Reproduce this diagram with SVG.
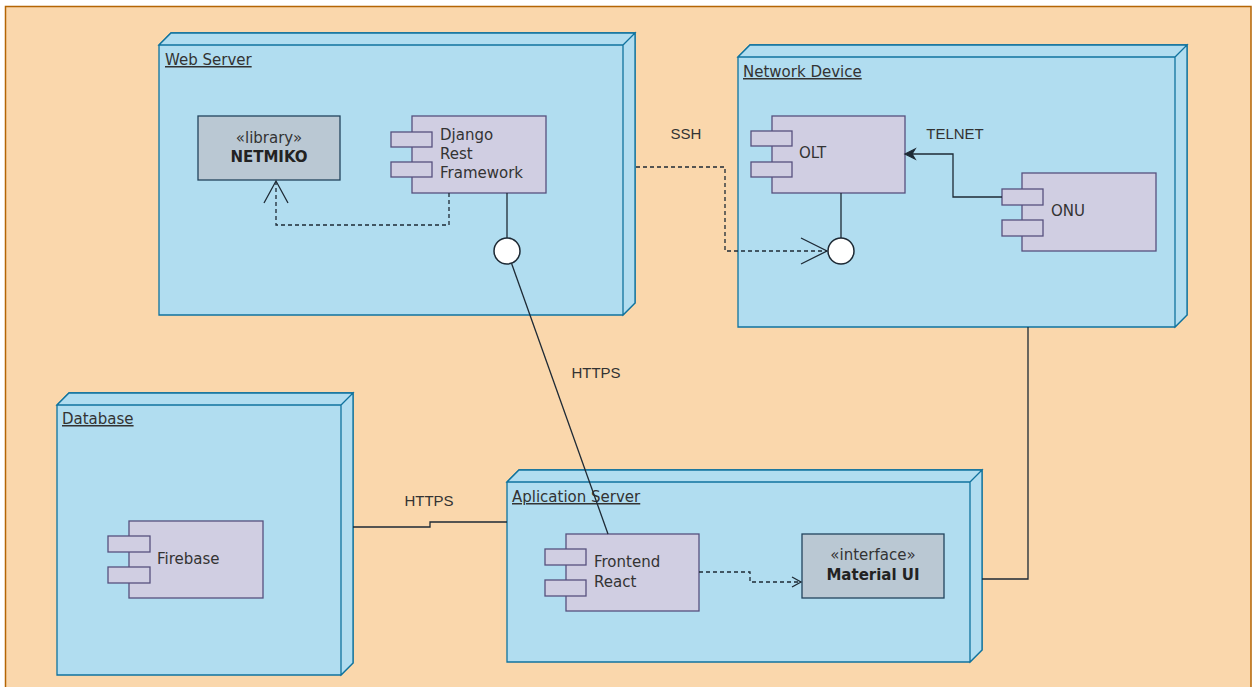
<svg xmlns="http://www.w3.org/2000/svg" width="1253" height="687" viewBox="0 0 1253 687">
<style>
.node{fill:#b1ddf0;stroke:#10739e;stroke-width:1.3}
.comp{fill:#d0cee2;stroke:#56517e;stroke-width:1.3}
.lib{fill:#bac8d3;stroke:#23445d;stroke-width:1.3}
.title{font-family:"DejaVu Sans",sans-serif;font-size:15px;fill:#333;text-decoration:underline}
.t{font-family:"DejaVu Sans",sans-serif;font-size:15px;fill:#333}
.tb{font-family:"DejaVu Sans",sans-serif;font-size:15px;fill:#222;font-weight:bold}
.lbl{font-family:"Liberation Sans",Arial,sans-serif;font-size:15px;fill:#333;text-anchor:middle}
.c{fill:none;stroke:#1e2a35;stroke-width:1.3}
.d{fill:none;stroke:#1e2a35;stroke-width:1.3;stroke-dasharray:4 3}
.lol{fill:#fff;stroke:#1e2a35;stroke-width:1.5}
</style>
<rect x="0" y="0" width="1253" height="687" fill="#ffffff"/>
<rect x="5.5" y="6.5" width="1245.5" height="690" fill="#fad7ac" stroke="#b46504" stroke-width="1.5"/>

<g id="web-server">
<path class="node" d="M159,45 L171,33 L635,33 L635,303 L623,315 L159,315 Z"/>
<path class="node" d="M159,45 L171,33 L635,33 L623,45 Z M623,45 L635,33 L635,303 L623,315 Z"/>
<text class="title" x="165" y="65">Web Server</text>
</g>
<g id="netmiko">
<rect class="lib" x="198" y="116" width="142" height="64"/>
<text class="t" x="269" y="143" text-anchor="middle">«library»</text>
<text class="tb" x="269" y="162" text-anchor="middle">NETMIKO</text>
</g>
<g id="django">
<rect class="comp" x="412" y="116" width="134" height="77"/>
<rect class="comp" x="391" y="132" width="41" height="15"/>
<rect class="comp" x="391" y="162" width="41" height="15"/>
<text class="t" x="440" y="140">Django</text>
<text class="t" x="440" y="159">Rest</text>
<text class="t" x="440" y="178">Framework</text>
</g>

<g id="network-device">
<path class="node" d="M738,57 L750,45 L1187,45 L1187,315 L1175,327 L738,327 Z"/>
<path class="node" d="M738,57 L750,45 L1187,45 L1175,57 Z M1175,57 L1187,45 L1187,315 L1175,327 Z"/>
<text class="title" x="743" y="77">Network Device</text>
</g>
<g id="olt">
<rect class="comp" x="772" y="116" width="133" height="77"/>
<rect class="comp" x="751" y="131" width="41" height="15"/>
<rect class="comp" x="751" y="162" width="41" height="15"/>
<text class="t" x="799" y="158">OLT</text>
</g>
<g id="onu">
<rect class="comp" x="1022" y="173" width="134" height="78"/>
<rect class="comp" x="1002" y="189" width="41" height="16"/>
<rect class="comp" x="1002" y="220" width="41" height="16"/>
<text class="t" x="1051" y="216">ONU</text>
</g>

<g id="database">
<path class="node" d="M57,405 L69,393 L353,393 L353,663 L341,675 L57,675 Z"/>
<path class="node" d="M57,405 L69,393 L353,393 L341,405 Z M341,405 L353,393 L353,663 L341,675 Z"/>
<text class="title" x="62" y="424">Database</text>
</g>
<g id="firebase">
<rect class="comp" x="129" y="521" width="134" height="77"/>
<rect class="comp" x="108" y="536" width="42" height="16"/>
<rect class="comp" x="108" y="567" width="42" height="16"/>
<text class="t" x="157" y="564">Firebase</text>
</g>

<g id="application-server">
<path class="node" d="M507,482 L519,470 L982,470 L982,650 L970,662 L507,662 Z"/>
<path class="node" d="M507,482 L519,470 L982,470 L970,482 Z M970,482 L982,470 L982,650 L970,662 Z"/>
<text class="title" x="512" y="502">Aplication Server</text>
</g>
<g id="frontend">
<rect class="comp" x="566" y="534" width="133" height="77"/>
<rect class="comp" x="545" y="549" width="41" height="16"/>
<rect class="comp" x="545" y="580" width="41" height="16"/>
<text class="t" x="594" y="567">Frontend</text>
<text class="t" x="594" y="587">React</text>
</g>
<g id="material-ui">
<rect class="lib" x="802" y="534" width="142" height="64"/>
<text class="t" x="873" y="560" text-anchor="middle">«interface»</text>
<text class="tb" x="873" y="580" text-anchor="middle">Material UI</text>
</g>

<g id="connectors">
<path class="d" d="M449,193 V225 H276 V182"/>
<path class="c" d="M264,203 L276,181 L288,203"/>
<path class="c" d="M507,193 V238"/>
<circle class="lol" cx="507" cy="251" r="13"/>
<path class="d" d="M636,167 H725 V251 H827"/>
<path class="c" d="M801,238 L827,251 L801,264"/>
<path class="c" d="M841,193 V238"/>
<circle class="lol" cx="841" cy="251" r="13"/>
<path class="c" d="M1002,197 H953 V154 H912"/>
<path d="M905,154 L915,149 L912,154 L915,159 Z" fill="#1e2a35" stroke="#1e2a35" stroke-width="1.3"/>
<path class="c" d="M511.5,263.3 L608,534"/>
<path class="c" d="M353,527 H430 V522 H507"/>
<path class="c" d="M1028,327 V579 H982"/>
<path class="d" d="M699,572 H750 V582 H800" stroke="#2f4a60"/>
<path class="c" d="M792,577 L801,582 L792,587" stroke="#2f4a60"/>
<text class="lbl" x="686" y="139">SSH</text>
<text class="lbl" x="955" y="139">TELNET</text>
<text class="lbl" x="596" y="378">HTTPS</text>
<text class="lbl" x="429" y="506">HTTPS</text>
</g>
</svg>
